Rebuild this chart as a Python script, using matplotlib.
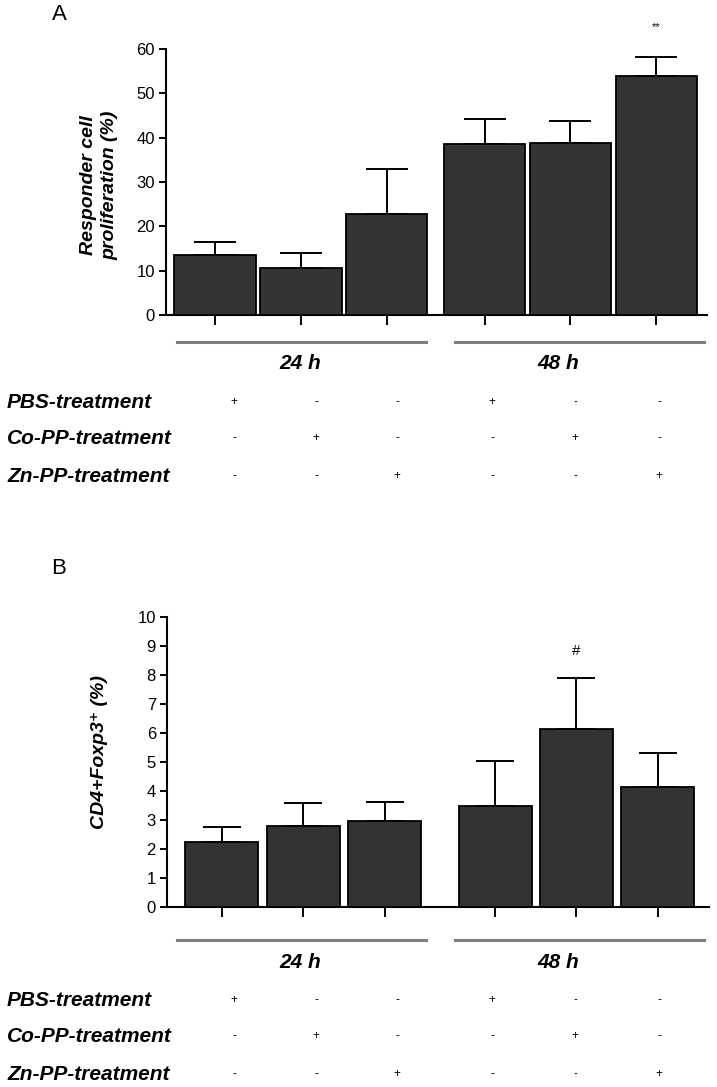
import matplotlib
matplotlib.use("Agg")
import matplotlib.pyplot as plt
from matplotlib.lines import Line2D

# Panel A: responder cell proliferation (%)
prolif_mean = [13.6, 10.5, 22.8, 38.6, 38.9, 53.9]
prolif_err = [2.8, 3.4, 10.1, 5.5, 4.9, 4.4]

# Panel B: CD4+Foxp3+ (%)
treg_mean = [2.23, 2.78, 2.96, 3.49, 6.14, 4.13]
treg_err = [0.52, 0.80, 0.67, 1.53, 1.76, 1.18]

groups = ["24 h", "48 h"]
treatments = ["PBS-treatment", "Co-PP-treatment", "Zn-PP-treatment"]
signs = [["+", "-", "-", "+", "-", "-"],
         ["-", "+", "-", "-", "+", "-"],
         ["-", "-", "+", "-", "-", "+"]]

W, H = 717, 1087
fig = plt.figure(figsize=(W / 100, H / 100), dpi=100)

bar_color = "#333333"
sans = ["Liberation Sans", "DejaVu Sans"]


def fx(px):
    return px / W


def fy(py):
    return 1 - py / H


def draw_panel(rect, pos, mean, err, width, xlim, ymax, yticks, capsize):
    ax = fig.add_axes(rect)
    ax.bar(pos, mean, width=width, color=bar_color, edgecolor="black",
           linewidth=1.3, zorder=3)
    ax.errorbar(pos, mean, yerr=[[0] * len(err), err], fmt="none",
                ecolor="black", elinewidth=1.4, capsize=capsize,
                capthick=1.4, zorder=2)
    ax.set_xlim(*xlim)
    ax.set_ylim(0, ymax)
    ax.set_xticks(pos)
    ax.set_xticklabels([])
    ax.set_yticks(yticks)
    ax.set_yticklabels([str(t) for t in yticks], family=sans, fontsize=12)
    for s in ["top", "right"]:
        ax.spines[s].set_visible(False)
    for s in ["left", "bottom"]:
        ax.spines[s].set_linewidth(1.5)
    ax.tick_params(axis="x", direction="out", length=7, width=1.4)
    ax.tick_params(axis="y", direction="out", length=5, width=1.4, pad=3)
    return ax


def draw_table(top):
    # group lines and labels below the axis, positions in figure pixels
    for (x0, x1), label, xc in zip([(177, 426), (455, 704)], groups, [300, 558]):
        fig.add_artist(Line2D([fx(x0), fx(x1)], [fy(top), fy(top)],
                              color="#808080", linewidth=2.2))
        fig.text(fx(xc), fy(top + 22), label, ha="center", va="center",
                 family=sans, fontsize=15, fontweight="bold", style="italic")
    sign_x = [234, 316, 397, 492, 575, 659]
    for i, (name, row) in enumerate(zip(treatments, signs)):
        yy = top + 60 + [0, 36, 74][i]
        fig.text(fx(7), fy(yy), name, ha="left", va="center",
                 family=sans, fontsize=15, fontweight="bold", style="italic")
        for x, s in zip(sign_x, row):
            fig.text(fx(x), fy(yy), s, ha="center", va="center",
                     family=sans, fontsize=8.5)


# ---- Panel A ----
axA = draw_panel([fx(166), fy(315), fx(707 - 166), (315 - 49) / H],
                 [0, 1, 2, 3.14, 4.14, 5.14], prolif_mean, prolif_err,
                 0.95, (-0.57, 5.73), 60, list(range(0, 61, 10)), 15)
axA.text(5.14, 65, "**", ha="center", va="center", fontsize=8,
         family=sans, clip_on=False)
fig.text(fx(99), fy(185), "Responder cell\nproliferation (%)", rotation=90,
         ha="center", va="center", family=sans, fontsize=14,
         fontweight="bold", style="italic", linespacing=1.35)
fig.text(fx(59), fy(15), "A", ha="center", va="center", family=sans,
         fontsize=16)
draw_table(342)

# ---- Panel B ----
axB = draw_panel([fx(167), fy(907), fx(709 - 167), (907 - 617) / H],
                 [0, 1, 2, 3.36, 4.36, 5.36], treg_mean, treg_err,
                 0.9, (-0.675, 5.99), 10, list(range(0, 11)), 14)
axB.text(4.36, 8.83, "#", ha="center", va="center", fontsize=11,
         family=sans)
fig.text(fx(99), fy(752), "CD4+Foxp3\u207a (%)", rotation=90,
         ha="center", va="center", family=sans, fontsize=14,
         fontweight="bold", style="italic")
fig.text(fx(59), fy(569), "B", ha="center", va="center", family=sans,
         fontsize=16)
draw_table(940)

fig.savefig("out.png", dpi=100, facecolor="white")
